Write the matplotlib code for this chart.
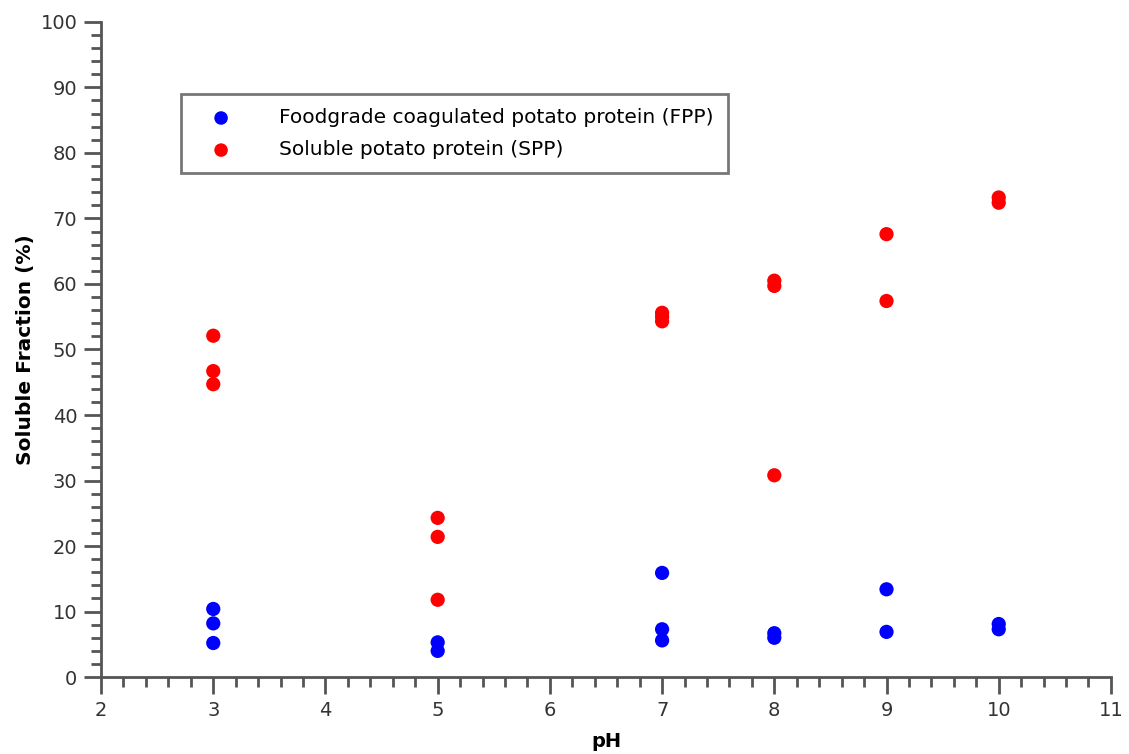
import numpy as np
import matplotlib.pyplot as plt
from matplotlib.ticker import MultipleLocator

# Soluble fraction (%)
ph_fpp = [3, 3, 3, 5, 5, 7, 7, 7, 8, 8, 9, 9, 10, 10]
fpp = [10.4, 8.2, 5.2, 5.3, 4.0, 15.9, 7.3, 5.6, 6.7, 6.0, 13.4, 6.9, 8.1, 7.3]

ph_spp = [3, 3, 3, 5, 5, 5, 7, 7, 7, 8, 8, 8, 9, 9, 10, 10]
spp = [52.1, 46.7, 44.7, 24.3, 21.4, 11.8, 55.6, 55.0, 54.3, 60.5, 59.7, 30.8,
       67.6, 57.4, 73.2, 72.4]

plt.rcParams['font.family'] = ['DejaVu Sans']

fig = plt.figure(figsize=(11.29, 7.54), dpi=100)
ax = fig.add_axes([0.0895, 0.102, 0.8945, 0.869])

ax.scatter(ph_fpp, fpp, s=105, color='#0000ff', edgecolors='none',
           label='Foodgrade coagulated potato protein (FPP)', zorder=3)
ax.scatter(ph_spp, spp, s=105, color='#ff0000', edgecolors='none',
           label='Soluble potato protein (SPP)', zorder=3)

ax.set_xlim(2, 11)
ax.set_ylim(0, 100)
ax.xaxis.set_major_locator(MultipleLocator(1))
ax.xaxis.set_minor_locator(MultipleLocator(0.2))
ax.yaxis.set_major_locator(MultipleLocator(10))
ax.yaxis.set_minor_locator(MultipleLocator(2))

for side in ['top', 'right']:
    ax.spines[side].set_visible(False)
for side in ['left', 'bottom']:
    ax.spines[side].set_color('#555555')
    ax.spines[side].set_linewidth(2)

ax.tick_params(which='major', length=12, width=2, color='#555555',
               labelsize=14, labelcolor='#333333', pad=5)
ax.tick_params(which='minor', length=7, width=2, color='#555555')

ax.set_xlabel('pH', fontsize=14, fontweight='bold', labelpad=9)
ax.set_ylabel('Soluble Fraction (%)', fontsize=14.5, fontweight='bold', labelpad=4)

leg = ax.legend(loc='upper left', bbox_to_anchor=(0.069, 0.905), fontsize=14.5,
                frameon=True, fancybox=False, edgecolor='#555555',
                handletextpad=1.6, borderpad=0.7, labelspacing=0.65,
                markerscale=0.95, handlelength=2.6)
leg.get_frame().set_linewidth(2)

fig.savefig('out.png', dpi=100)
